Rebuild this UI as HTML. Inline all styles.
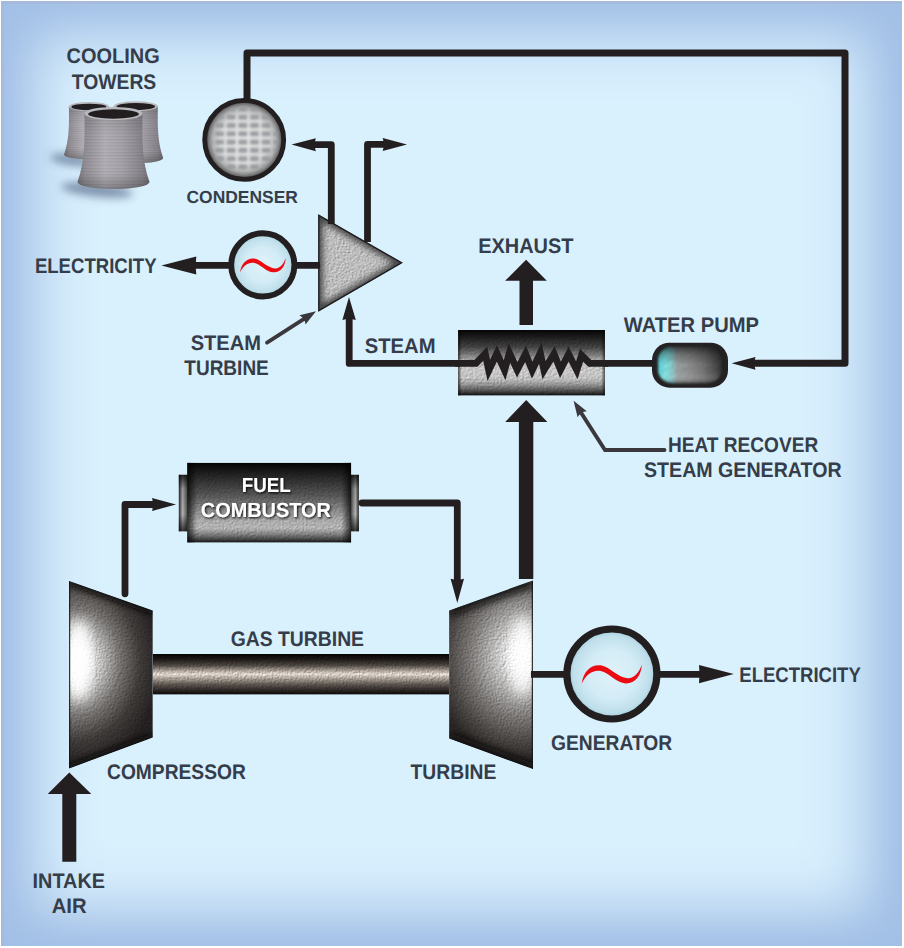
<!DOCTYPE html>
<html><head><meta charset="utf-8"><title>Combined Cycle Power Plant</title>
<style>
html,body{margin:0;padding:0;background:#fff;}
body{width:904px;height:948px;position:relative;overflow:hidden;font-family:"Liberation Sans",sans-serif;}
#bg{position:absolute;left:1px;top:1px;width:901px;height:945px;background:#d9f0fd;
 box-shadow:inset 3px 3px 0 0 rgba(170,178,208,0.4), inset 0 0 22px 6px rgba(162,191,230,0.7), inset 0 0 59px 35px #a2bfe6;}
svg{position:absolute;left:0;top:0;}
text{font-family:"Liberation Sans",sans-serif;font-weight:700;fill:#343d49;text-rendering:geometricPrecision;}
</style></head><body>
<div id="bg"></div>
<svg width="904" height="948" viewBox="0 0 904 948">
<defs>
<filter id="tsh" x="-10%" y="-30%" width="120%" height="160%"><feDropShadow dx="1" dy="1.2" stdDeviation="1.2" flood-color="#000" flood-opacity="0.9"/></filter>

<filter id="tex" x="0" y="0" width="100%" height="100%" color-interpolation-filters="sRGB">
 <feTurbulence type="fractalNoise" baseFrequency="0.7" numOctaves="2" seed="4" result="n"/>
 <feDiffuseLighting in="n" surfaceScale="0.75" diffuseConstant="0.9" lighting-color="#fff" result="l"><feDistantLight azimuth="225" elevation="50"/></feDiffuseLighting>
 <feComposite in="l" in2="SourceGraphic" operator="arithmetic" k1="1.45" k2="0" k3="0" k4="0" result="m"/>
 <feComposite in="m" in2="SourceGraphic" operator="in"/>
</filter>
<filter id="b2"><feGaussianBlur stdDeviation="2"/></filter>
<filter id="b3"><feGaussianBlur stdDeviation="3"/></filter>
<filter id="b4"><feGaussianBlur stdDeviation="4"/></filter>
<filter id="b6"><feGaussianBlur stdDeviation="6"/></filter>
<filter id="b1"><feGaussianBlur stdDeviation="1"/></filter>

<radialGradient id="gComp" gradientUnits="userSpaceOnUse" cx="0" cy="0" r="1" gradientTransform="translate(75 662) scale(86 104)">
 <stop offset="0" stop-color="#ffffff"/><stop offset="0.14" stop-color="#f2f2f2"/><stop offset="0.32" stop-color="#bcbbba"/><stop offset="0.52" stop-color="#767371"/><stop offset="0.76" stop-color="#3e3a38"/><stop offset="1" stop-color="#242020"/>
</radialGradient>
<radialGradient id="gTurb" gradientUnits="userSpaceOnUse" cx="0" cy="0" r="1" gradientTransform="translate(524 656) scale(92 104)">
 <stop offset="0" stop-color="#ffffff"/><stop offset="0.14" stop-color="#f0f0f0"/><stop offset="0.36" stop-color="#b4b3b2"/><stop offset="0.6" stop-color="#787573"/><stop offset="0.82" stop-color="#4a4644"/><stop offset="1" stop-color="#2a2624"/>
</radialGradient>
<clipPath id="cComp"><path d="M69.2,581 L152.8,610.4 V737.6 L69.2,768.4 Z"/></clipPath>
<clipPath id="cTurb"><path d="M449.1,610.4 L532.8,580.5 V769 L449.1,738.5 Z"/></clipPath>
<linearGradient id="gShaft" x1="0" y1="654" x2="0" y2="694.5" gradientUnits="userSpaceOnUse">
 <stop offset="0" stop-color="#050403"/><stop offset="0.12" stop-color="#1a1614"/><stop offset="0.28" stop-color="#4c453f"/><stop offset="0.41" stop-color="#a89f96"/><stop offset="0.5" stop-color="#e2dad0"/><stop offset="0.6" stop-color="#aaa198"/><stop offset="0.75" stop-color="#5c544e"/><stop offset="0.9" stop-color="#2a2522"/><stop offset="1" stop-color="#0a0807"/>
</linearGradient>
<linearGradient id="gHrsg" x1="0" y1="330" x2="0" y2="395.5" gradientUnits="userSpaceOnUse">
 <stop offset="0" stop-color="#050505"/><stop offset="0.1" stop-color="#1a1a1a"/><stop offset="0.26" stop-color="#424242"/><stop offset="0.4" stop-color="#868686"/><stop offset="0.5" stop-color="#bababa"/><stop offset="0.62" stop-color="#c8c8c8"/><stop offset="0.74" stop-color="#c0c0c0"/><stop offset="0.82" stop-color="#9c9c9c"/><stop offset="0.89" stop-color="#6c6c6c"/><stop offset="0.95" stop-color="#3c3c3c"/><stop offset="1" stop-color="#0c0c0c"/>
</linearGradient>
<linearGradient id="gVig" x1="0" y1="0" x2="1" y2="0">
 <stop offset="0" stop-color="#000" stop-opacity="0.75"/><stop offset="0.06" stop-color="#000" stop-opacity="0"/><stop offset="0.94" stop-color="#000" stop-opacity="0"/><stop offset="1" stop-color="#000" stop-opacity="0.75"/>
</linearGradient>
<linearGradient id="gFuel" x1="0" y1="463" x2="0" y2="542.5" gradientUnits="userSpaceOnUse">
 <stop offset="0" stop-color="#040404"/><stop offset="0.1" stop-color="#181818"/><stop offset="0.25" stop-color="#363636"/><stop offset="0.42" stop-color="#585858"/><stop offset="0.58" stop-color="#848484"/><stop offset="0.72" stop-color="#aaaaaa"/><stop offset="0.82" stop-color="#b4b4b4"/><stop offset="0.9" stop-color="#7c7c7c"/><stop offset="0.96" stop-color="#444"/><stop offset="1" stop-color="#141414"/>
</linearGradient>
<linearGradient id="gCapL" x1="178.8" y1="0" x2="187.3" y2="0" gradientUnits="userSpaceOnUse">
 <stop offset="0" stop-color="#2a2a2a"/><stop offset="0.45" stop-color="#b4b4b4"/><stop offset="1" stop-color="#505050"/>
</linearGradient>
<linearGradient id="gCapR" x1="351" y1="0" x2="359" y2="0" gradientUnits="userSpaceOnUse">
 <stop offset="0" stop-color="#505050"/><stop offset="0.55" stop-color="#b4b4b4"/><stop offset="1" stop-color="#2a2a2a"/>
</linearGradient>
<linearGradient id="gCapV" x1="0" y1="474.8" x2="0" y2="531.3" gradientUnits="userSpaceOnUse">
 <stop offset="0" stop-color="#000" stop-opacity="0.8"/><stop offset="0.25" stop-color="#000" stop-opacity="0.15"/><stop offset="0.7" stop-color="#000" stop-opacity="0"/><stop offset="1" stop-color="#000" stop-opacity="0.7"/>
</linearGradient>
<clipPath id="cTri"><path d="M318.2,214.2 L402.8,262.8 L318.2,311.8 Z"/></clipPath>
<radialGradient id="gGen" cx="0.5" cy="0.5" r="0.5">
 <stop offset="0" stop-color="#e0f2fa"/><stop offset="0.55" stop-color="#d3ecf6"/><stop offset="0.85" stop-color="#bfdfeb"/><stop offset="1" stop-color="#a0c8d8"/>
</radialGradient>
<radialGradient id="gCond" cx="0.5" cy="0.5" r="0.5">
 <stop offset="0" stop-color="#e3e3e3"/><stop offset="0.62" stop-color="#dadada"/><stop offset="0.8" stop-color="#b6b6b6"/><stop offset="0.92" stop-color="#707070"/><stop offset="1" stop-color="#2a2a2a"/>
</radialGradient>
<clipPath id="cCond"><circle cx="244.2" cy="139.9" r="38"/></clipPath>
<pattern id="pCond" x="213.7" y="104.7" width="11.65" height="8.3" patternUnits="userSpaceOnUse">
 <rect x="1.3" y="1.7" width="9" height="4.9" rx="1.8" fill="#969a9e"/>
</pattern>
<linearGradient id="gPumpH" x1="658" y1="0" x2="721.5" y2="0" gradientUnits="userSpaceOnUse">
 <stop offset="0" stop-color="#58cad0"/><stop offset="0.1" stop-color="#7adde0"/><stop offset="0.2" stop-color="#86cfd1"/><stop offset="0.3" stop-color="#969e9e"/><stop offset="0.5" stop-color="#8c8c8c"/><stop offset="0.72" stop-color="#707070"/><stop offset="0.9" stop-color="#4c4c4c"/><stop offset="1" stop-color="#323232"/>
</linearGradient>
<linearGradient id="gPumpV" x1="0" y1="347" x2="0" y2="383.2" gradientUnits="userSpaceOnUse">
 <stop offset="0" stop-color="#000" stop-opacity="0.6"/><stop offset="0.2" stop-color="#000" stop-opacity="0.28"/><stop offset="0.5" stop-color="#000" stop-opacity="0"/><stop offset="0.8" stop-color="#fff" stop-opacity="0.08"/><stop offset="1" stop-color="#000" stop-opacity="0.35"/>
</linearGradient>
<clipPath id="cPump"><rect x="658" y="347" width="63.5" height="36.2" rx="14" ry="14"/></clipPath>

<linearGradient id="gTow" x1="0" y1="0" x2="1" y2="0">
 <stop offset="0" stop-color="#77757b"/><stop offset="0.1" stop-color="#908e94"/><stop offset="0.38" stop-color="#b2b0b6"/><stop offset="0.62" stop-color="#a5a3a9"/><stop offset="0.9" stop-color="#86848a"/><stop offset="1" stop-color="#706e74"/>
</linearGradient>
<linearGradient id="gTowV" x1="0" y1="0" x2="0" y2="1">
 <stop offset="0" stop-color="#000" stop-opacity="0.12"/><stop offset="0.3" stop-color="#000" stop-opacity="0"/><stop offset="0.8" stop-color="#000" stop-opacity="0"/><stop offset="1" stop-color="#000" stop-opacity="0.25"/>
</linearGradient>
<pattern id="pRing" x="0" y="0" width="10" height="3.2" patternUnits="userSpaceOnUse"><rect x="0" y="0" width="10" height="1" fill="#000" fill-opacity="0.07"/></pattern>
<g id="tower">
 <path d="M-29,0 C-28.6,26 -28.5,48 -36,68.5 A36,7 0 0 0 36,68.5 C28.5,48 28.6,26 29,0 Z" fill="url(#gTow)"/>
 <path d="M-29,0 C-28.6,26 -28.5,48 -36,68.5 A36,7 0 0 0 36,68.5 C28.5,48 28.6,26 29,0 Z" fill="url(#pRing)"/>
 <path d="M-29,0 C-28.6,26 -28.5,48 -36,68.5 A36,7 0 0 0 36,68.5 C28.5,48 28.6,26 29,0 Z" fill="url(#gTowV)"/>
 <ellipse cx="0" cy="0" rx="29" ry="6.6" fill="#b9b9bd"/>
 <ellipse cx="0" cy="0.5" rx="25.4" ry="4.7" fill="#221e20"/>
</g>
<linearGradient id="gVigH" x1="0" y1="0" x2="1" y2="0">
 <stop offset="0" stop-color="#000" stop-opacity="0.6"/><stop offset="0.025" stop-color="#000" stop-opacity="0"/><stop offset="0.975" stop-color="#000" stop-opacity="0"/><stop offset="1" stop-color="#000" stop-opacity="0.6"/>
</linearGradient>
<filter id="tex2" x="0" y="0" width="100%" height="100%" color-interpolation-filters="sRGB">
 <feTurbulence type="fractalNoise" baseFrequency="0.55" numOctaves="2" seed="7" result="n"/>
 <feDiffuseLighting in="n" surfaceScale="0.5" diffuseConstant="0.9" lighting-color="#fff" result="l"><feDistantLight azimuth="225" elevation="50"/></feDiffuseLighting>
 <feComposite in="l" in2="SourceGraphic" operator="arithmetic" k1="1.45" k2="0" k3="0" k4="0" result="m"/>
 <feComposite in="m" in2="SourceGraphic" operator="in"/>
</filter>
<!--DEFS-->
</defs>

<!-- compressor -->
<g clip-path="url(#cComp)">
 <g filter="url(#tex)"><path d="M69.2,581 L152.8,610.4 V737.6 L69.2,768.4 Z" fill="url(#gComp)"/></g>
 <path d="M69.2,581 L152.8,610.4 M152.8,737.6 L69.2,768.4" fill="none" stroke="#0c0a09" stroke-width="8" filter="url(#b3)"/>
 <path d="M152.8,610.4 V737.6" fill="none" stroke="#0c0a09" stroke-width="7" filter="url(#b3)"/>
 <ellipse cx="79" cy="660" rx="13" ry="40" fill="#fff" fill-opacity="0.95" filter="url(#b6)"/>
 <path d="M69.4,581 V768.4" fill="none" stroke="#0c0a09" stroke-width="1.6"/>
</g>
<!-- turbine -->
<g clip-path="url(#cTurb)">
 <g filter="url(#tex)"><path d="M449.1,610.4 L532.8,580.5 V769 L449.1,738.5 Z" fill="url(#gTurb)"/></g>
 <path d="M449.1,610.4 L532.8,580.5 M532.8,769 L449.1,738.5" fill="none" stroke="#0c0a09" stroke-width="11" filter="url(#b4)"/>
 <path d="M449.1,610.4 V738.5" fill="none" stroke="#0c0a09" stroke-width="5" stroke-opacity="0.8" filter="url(#b2)"/>
 <ellipse cx="522" cy="656" rx="12" ry="40" fill="#fff" fill-opacity="0.8" filter="url(#b6)"/>
 <path d="M532.6,580.5 V769" fill="none" stroke="#0c0a09" stroke-width="1.6"/>
</g>
<!-- shaft -->
<g filter="url(#tex)"><rect x="152.8" y="654" width="296.4" height="40.5" fill="url(#gShaft)"/></g>
<!-- HRSG -->
<g filter="url(#tex2)"><rect x="458.1" y="330" width="146.8" height="65.5" fill="url(#gHrsg)"/></g>
<rect x="458.1" y="330" width="146.8" height="65.5" fill="url(#gVigH)"/>
<!-- combustor -->
<rect x="178.8" y="474.8" width="9" height="56.5" fill="url(#gCapL)"/><rect x="178.8" y="474.8" width="9" height="56.5" fill="url(#gCapV)"/>
<rect x="350.5" y="474.8" width="8.4" height="56.5" fill="url(#gCapR)"/><rect x="350.5" y="474.8" width="8.4" height="56.5" fill="url(#gCapV)"/>
<g filter="url(#tex2)"><rect x="187.3" y="462.8" width="163.8" height="79.7" fill="url(#gFuel)"/></g>
<rect x="187.3" y="462.8" width="163.8" height="79.7" fill="url(#gVig)"/>
<!-- steam turbine triangle -->
<g clip-path="url(#cTri)">
 <g filter="url(#tex)"><path d="M318.3,214.6 L402.5,262.8 L318.3,311.5 Z" fill="#bdbdbd"/></g>
 <path d="M318.3,214.6 L402.5,262.8 L318.3,311.5 Z" fill="none" stroke="#303030" stroke-width="9" stroke-opacity="0.85" filter="url(#b3)"/>
 <path d="M318.3,214.6 L402.5,262.8 L318.3,311.5 Z" fill="none" stroke="#1a1a1a" stroke-width="2.4" stroke-opacity="0.9"/>
</g>
<!-- water pump -->
<rect x="652" y="342.7" width="76" height="45" rx="17.5" ry="17.5" fill="#232121"/>
<g filter="url(#b1)">
 <g clip-path="url(#cPump)">
  <g filter="url(#tex2)"><rect x="654.5" y="345" width="71" height="40.5" fill="url(#gPumpH)"/></g>
  <rect x="654.5" y="345" width="71" height="40.5" fill="url(#gPumpV)"/>
 </g>
</g>
<!-- condenser -->
<circle cx="244.2" cy="139.9" r="39.3" fill="url(#gCond)"/>
<g clip-path="url(#cCond)"><g filter="url(#b1)" opacity="0.9"><circle cx="244.2" cy="139.9" r="34" fill="url(#pCond)"/></g></g>
<circle cx="244.2" cy="139.9" r="39.5" fill="none" stroke="#231f20" stroke-width="4.8"/>

<!-- cooling towers -->
<g filter="url(#b4)" fill="#45587a" fill-opacity="0.6">
 <ellipse cx="72" cy="160" rx="22" ry="5.5" transform="rotate(8 72 160)"/>
 <ellipse cx="97" cy="190" rx="36" ry="7" transform="rotate(6 97 190)"/>
</g>
<use href="#tower" transform="translate(88.9 106.6) scale(0.69 0.70)"/>
<use href="#tower" transform="translate(135.8 106.2) scale(0.76 0.755)"/>
<use href="#tower" transform="translate(113.5 113.5)"/>
<!--SHAPES-->
<g id="lines" fill="none" stroke="#231f20" stroke-width="6.8" stroke-linejoin="round">
<path d="M247,100 V52.9 H845 V363.3 H752" stroke-width="7"/>
<path d="M331.3,224 V144.6 H313"/>
<path d="M367.5,242 V144.4 H385"/>
<path d="M320,265.3 H192" stroke-width="6.8"/>
<path d="M460,363.4 H349.2 V317"/>
<path d="M603,363.4 H654"/>
<path d="M125,593.8 V504.5 H154" stroke-linecap="round"/>
<path d="M362,503 H457.3 V581" stroke-linecap="round"/>
<path d="M531,674.4 H702" stroke-width="6.6"/>
</g>
<g id="heads" fill="#231f20">
<path d="M731.6,363.3 L755.5,357 Q753.5,363.3 755.5,369.7 Z"/>
<path d="M291.5,144.5 L315.8,138.3 Q313.8,144.5 315.8,151.2 Z"/>
<path d="M407,144.4 L382.7,138 Q384.7,144.4 382.7,151 Z"/>
<path d="M161.4,265.4 L196.3,256.4 Q195,265.4 196.3,274.5 Z"/>
<path d="M349,297 L342.4,320 Q349,318 355.8,320 Z"/>
<path d="M176,504.5 L152,498 Q154,504.5 152,511 Z"/>
<path d="M457.3,603 L450.6,578.8 Q457.3,580.8 464,578.8 Z"/>
<path d="M733.8,674.1 L699,665 Q700,674.1 699,683.2 Z"/>
<path d="M526.1,259.8 L546.8,280.8 H533 V325 H519.5 V280.8 H505.1 Z"/>
<path d="M526.2,400 L547.4,422 H533.3 V579 H518.9 V422 H505.2 Z"/>
<path d="M69.3,772.6 L91.3,794 H76.3 V861.8 H62.3 V794 H47.7 Z"/>
</g>
<g id="pointers" fill="none" stroke="#3a383d" stroke-width="3.8" stroke-linejoin="miter" stroke-linecap="round">
<path d="M267,342.6 L306,317.6"/>
<path d="M664.5,450 H605 L581,412.6"/>
</g>
<g fill="#3a383d">
<path d="M316,311.2 L299.5,315.2 Q304.8,318.2 305.5,324.4 Z"/>
<path d="M573.6,400.8 L577.6,417.3 Q580.6,411.6 586.8,411.3 Z"/>
</g>

<path d="M455,363.4 H476 L485.2,353.6 L488.8,370.4 L496.9,353.4 L504.6,370.2 L509.4,353 L517.2,369.8 L525.6,353.9 L532.2,370.2 L540.3,353.2 L544,370.2 L554,353.9 L560.5,369.8 L568.6,354 L576.8,370.2 L581.6,355.2 L589.8,363.4 H608" fill="none" stroke="#231f20" stroke-width="6.9" stroke-linejoin="miter" stroke-miterlimit="10"/>
<circle cx="262.8" cy="264.9" r="31.6" fill="url(#gGen)" stroke="#231f20" stroke-width="5.9"/>
<circle cx="611.9" cy="674" r="45" fill="url(#gGen)" stroke="#231f20" stroke-width="7.2"/>
<path id="tilde" d="M-30,9.5 C-28.5,-3 -20,-10.4 -10,-8.4 C-2,-6.8 6,3.8 16,4.2 C23,4.4 27.5,-2 30,-9.5 C29.5,1.5 23.5,9.6 14,9.4 C4.5,9.2 -3,-1.4 -11,-2.9 C-19,-4.4 -26,0.8 -30,9.5 Z" fill="#ea0c12" transform="translate(611.8 674)"/>
<path d="M-30,9.5 C-28.5,-3 -20,-10.4 -10,-8.4 C-2,-6.8 6,3.8 16,4.2 C23,4.4 27.5,-2 30,-9.5 C29.5,1.5 23.5,9.6 14,9.4 C4.5,9.2 -3,-1.4 -11,-2.9 C-19,-4.4 -26,0.8 -30,9.5 Z" fill="#ea0c12" transform="translate(262.9 265.2) scale(0.76)"/>
<!--LINES-->
<g id="labels">
<text x="66.6" y="63.2" font-size="21" textLength="93.1" lengthAdjust="spacingAndGlyphs">COOLING</text>
<text x="71.7" y="88.5" font-size="21" textLength="84.6" lengthAdjust="spacingAndGlyphs">TOWERS</text>
<text x="186.5" y="202.8" font-size="17.5" textLength="111.4" lengthAdjust="spacingAndGlyphs">CONDENSER</text>
<text x="34.9" y="273.1" font-size="21" textLength="121.7" lengthAdjust="spacingAndGlyphs">ELECTRICITY</text>
<text x="190.7" y="350.3" font-size="21" textLength="70.3" lengthAdjust="spacingAndGlyphs">STEAM</text>
<text x="184.3" y="375.0" font-size="21" textLength="84.5" lengthAdjust="spacingAndGlyphs">TURBINE</text>
<text x="364.8" y="352.8" font-size="21" textLength="70.7" lengthAdjust="spacingAndGlyphs">STEAM</text>
<text x="478.2" y="253.2" font-size="21" textLength="95.3" lengthAdjust="spacingAndGlyphs">EXHAUST</text>
<text x="623.8" y="331.9" font-size="21" textLength="135.2" lengthAdjust="spacingAndGlyphs">WATER PUMP</text>
<text x="668.0" y="451.7" font-size="21" textLength="150.2" lengthAdjust="spacingAndGlyphs">HEAT RECOVER</text>
<text x="644.0" y="477.3" font-size="21" textLength="197.6" lengthAdjust="spacingAndGlyphs">STEAM GENERATOR</text>
<text x="230.8" y="645.6" font-size="21" textLength="133.2" lengthAdjust="spacingAndGlyphs">GAS TURBINE</text>
<text x="107.0" y="779.0" font-size="21" textLength="138.8" lengthAdjust="spacingAndGlyphs">COMPRESSOR</text>
<text x="410.6" y="779.0" font-size="21" textLength="85.7" lengthAdjust="spacingAndGlyphs">TURBINE</text>
<text x="551.0" y="749.8" font-size="21" textLength="121.2" lengthAdjust="spacingAndGlyphs">GENERATOR</text>
<text x="739.3" y="681.6" font-size="21" textLength="121.5" lengthAdjust="spacingAndGlyphs">ELECTRICITY</text>
<text x="32.6" y="888.0" font-size="21" textLength="72.4" lengthAdjust="spacingAndGlyphs">INTAKE</text>
<text x="51.7" y="912.8" font-size="21" textLength="34.9" lengthAdjust="spacingAndGlyphs">AIR</text>
</g>
<g id="wlabels" style="fill:#fff" filter="url(#tsh)">
<text x="241.8" y="492" font-size="20.5" textLength="49" lengthAdjust="spacingAndGlyphs" style="fill:#fff">FUEL</text>
<text x="200.8" y="517" font-size="20.5" textLength="130" lengthAdjust="spacingAndGlyphs" style="fill:#fff">COMBUSTOR</text>
</g>
<!--TEXT-->
</svg>
</body></html>
